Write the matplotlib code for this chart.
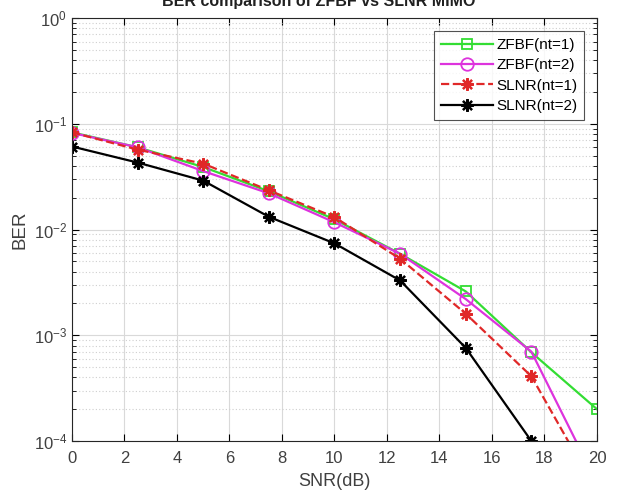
import numpy as np
import matplotlib
matplotlib.use('Agg')
import matplotlib.pyplot as plt
from matplotlib.ticker import LogLocator, NullFormatter

plt.rcParams['font.family'] = ['Liberation Sans', 'DejaVu Sans']

# ---- data ----
snr = [0, 2.5, 5, 7.5, 10, 12.5, 15, 17.5, 20]
ber_zfbf_nt1 = [0.083, 0.060, 0.039, 0.023, 0.0125, 0.0059, 0.0026, 0.00069, 0.0002]
ber_zfbf_nt2 = [0.082, 0.060, 0.0357, 0.022, 0.0117, 0.0059, 0.0022, 0.0007, 0.00004]
ber_slnr_nt1 = [0.083, 0.057, 0.042, 0.0235, 0.0131, 0.0053, 0.0016, 0.00041, 0.000033]
ber_slnr_nt2 = [0.061, 0.043, 0.029, 0.0132, 0.0074, 0.0033, 0.00076, 0.0001, 0.000005]

labels = ['ZFBF(nt=1)', 'ZFBF(nt=2)', 'SLNR(nt=1)', 'SLNR(nt=2)']

fig = plt.figure(figsize=(6.18, 4.95), dpi=100)
ax = fig.add_axes([0.1165, 0.109, 0.8495, 0.8545])

asterisk = (8, 2, 0)
ax.semilogy(snr, ber_zfbf_nt1, '-', color='#33dd33', lw=1.6, marker='s',
            ms=7, mfc='none', mew=1.3, label=labels[0])
ax.semilogy(snr, ber_zfbf_nt2, '-', color='#dd33dd', lw=1.6, marker='o',
            ms=9, mfc='none', mew=1.3, label=labels[1])
ax.semilogy(snr, ber_slnr_nt1, '--', color='#e02828', lw=1.6, marker=asterisk,
            ms=9, mew=1.6, label=labels[2])
ax.semilogy(snr, ber_slnr_nt2, '-', color='black', lw=1.6, marker=asterisk,
            ms=9, mew=1.6, label=labels[3])

ax.set_xlim(0, 20)
ax.set_ylim(1e-4, 1)
ax.set_xticks(np.arange(0, 21, 2))
ax.yaxis.set_major_locator(LogLocator(base=10, numticks=10))
ax.yaxis.set_minor_locator(LogLocator(base=10, subs=np.arange(2, 10), numticks=20))
ax.yaxis.set_minor_formatter(NullFormatter())

ax.grid(True, which='major', color='#d9d9d9', lw=0.8, ls='-')
ax.grid(True, which='minor', axis='y', color='#cfcfcf', lw=0.8, ls=(0, (1, 2)))
ax.tick_params(which='both', direction='in', top=True, right=True,
               labelsize=12, labelcolor='#404040')
ax.tick_params(axis='x', pad=7)
ax.tick_params(which='major', length=5)
ax.tick_params(which='minor', length=3)
for s in ax.spines.values():
    s.set_color('#262626')
    s.set_linewidth(0.8)

ax.set_xlabel('SNR(dB)', fontsize=13, color='#404040', labelpad=5)
ax.set_ylabel('BER', fontsize=13.5, color='#404040', labelpad=4)

# title sits partly outside the figure (cut off in the original)
fig.text(0.515, 0.996, 'BER comparison of ZFBF vs SLNR MIMO', ha='center',
         va='center', fontsize=11.5, fontweight='bold', color='#202020')

leg = ax.legend(loc='upper right', fontsize=11, frameon=True, fancybox=False,
                edgecolor='#262626', borderaxespad=0.85, handlelength=3.4,
                handletextpad=0.2, labelspacing=0.42, borderpad=0.45)
leg.get_frame().set_linewidth(0.8)

fig.savefig('out.png', dpi=100)
